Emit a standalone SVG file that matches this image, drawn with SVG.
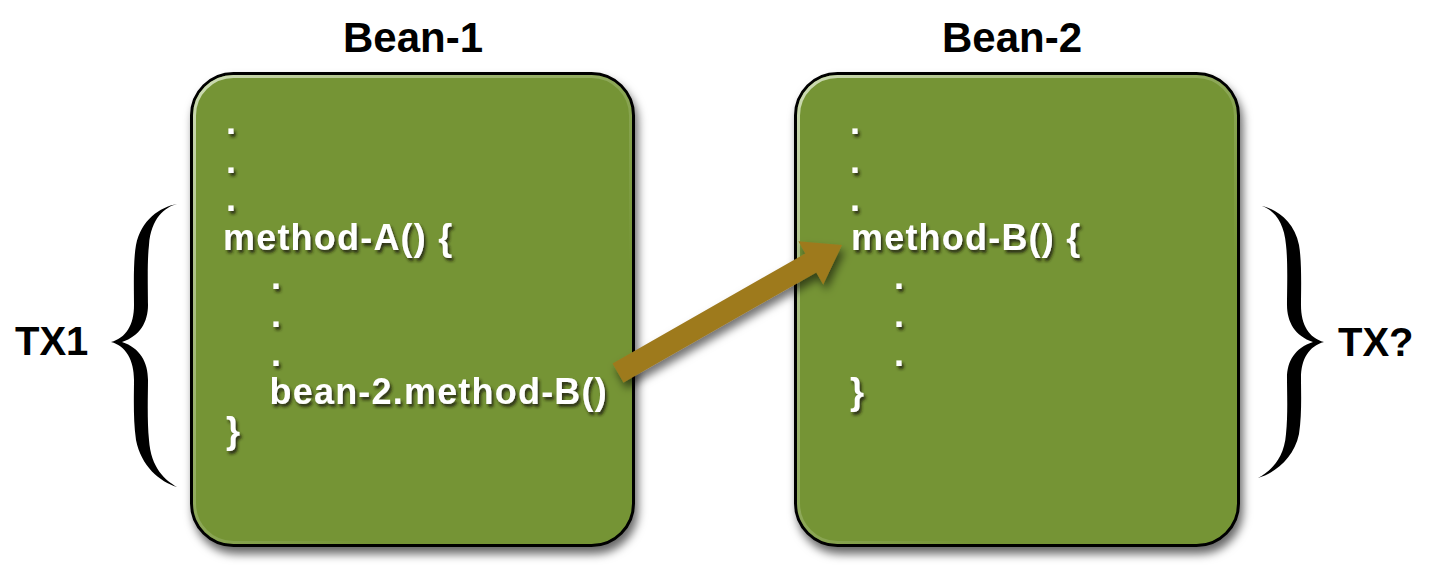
<svg xmlns="http://www.w3.org/2000/svg" width="1443" height="587" viewBox="0 0 1443 587">
<defs>
<filter id="boxShadow" x="-10%" y="-10%" width="125%" height="125%">
<feDropShadow dx="3" dy="7" stdDeviation="5" flood-color="#000" flood-opacity="0.6"/>
</filter>
<filter id="txtShadow" x="-10%" y="-30%" width="130%" height="170%">
<feDropShadow dx="2" dy="3" stdDeviation="1.6" flood-color="#1b240b" flood-opacity="0.85"/>
</filter>
<filter id="arrowShadow" x="-20%" y="-30%" width="150%" height="180%">
<feDropShadow dx="3" dy="6" stdDeviation="4" flood-color="#000" flood-opacity="0.55"/>
</filter>
<linearGradient id="hl" x1="0" y1="0" x2="1" y2="1">
<stop offset="0" stop-color="#d8e4c4" stop-opacity="0.9"/>
<stop offset="0.45" stop-color="#b9cc98" stop-opacity="0.4"/>
<stop offset="0.7" stop-color="#b9cc98" stop-opacity="0"/>
</linearGradient>
<style>
.box{fill:#759436;stroke:#000;stroke-width:3}
.inner{fill:none;stroke:url(#hl);stroke-width:3}
.code{font-family:"Liberation Sans",Arial,Helvetica,sans-serif;font-weight:bold;font-size:36px;fill:#fff;letter-spacing:1.2px}
.title{font-family:"Liberation Sans",Arial,Helvetica,sans-serif;font-weight:bold;font-size:42px;fill:#000}
.tx{font-family:"Liberation Sans",Arial,Helvetica,sans-serif;font-weight:bold;font-size:40px;fill:#000}
.brace{fill:#000}
.arrow{fill:#9e7a1f}
</style>
</defs>
<rect width="1443" height="587" fill="#fff"/>

<g id="bean1">
<text class="title" x="413" y="52" text-anchor="middle">Bean-1</text>
<rect class="box" x="191.5" y="73.5" width="442" height="472" rx="42" filter="url(#boxShadow)"/>
<rect class="inner" x="194.5" y="76.5" width="436" height="466" rx="39"/>
<g class="code" filter="url(#txtShadow)">
<text x="226" y="134">.</text>
<text x="226" y="172.5">.</text>
<text x="226" y="211">.</text>
<text x="223" y="250">method-A() {</text>
<text x="271" y="288.5">.</text>
<text x="271" y="327">.</text>
<text x="271" y="365.5">.</text>
<text x="269.5" y="404">bean-2.method-B()</text>
<text x="226" y="443">}</text>
</g>
</g>

<g id="bean2">
<text class="title" x="1012" y="52" text-anchor="middle">Bean-2</text>
<rect class="box" x="795.5" y="73.5" width="443" height="472" rx="42" filter="url(#boxShadow)"/>
<rect class="inner" x="798.5" y="76.5" width="437" height="466" rx="39"/>
<g class="code" filter="url(#txtShadow)">
<text x="850" y="134">.</text>
<text x="850" y="172.5">.</text>
<text x="850" y="211">.</text>
<text x="851" y="250">method-B() {</text>
<text x="894" y="288.5">.</text>
<text x="894" y="327">.</text>
<text x="894" y="365.5">.</text>
<text x="850" y="404">}</text>
</g>
</g>

<g id="tx1">
<path class="brace" d="M 177 204 C 160 207, 141 220, 136 245 C 133 262, 134 290, 134 305 C 134 325, 126 338, 111 342 C 126 346, 134 360, 134 380 C 134 395, 133 420, 136 440 C 141 466, 160 482, 177 487 C 165 480, 151 468, 149 440 C 147 420, 148 395, 148 380 C 148 362, 140 348, 122 342 C 140 336, 148 322, 148 305 C 148 290, 147 262, 149 245 C 151 218, 165 207, 177 204 Z"/>
<text class="tx" x="15" y="355">TX1</text>
</g>

<g id="tx2">
<path class="brace" d="M 1258 205 C 1275 208, 1294 220, 1299 245 C 1302 262, 1301 290, 1301 305 C 1301 325, 1309 338, 1324 342 C 1309 346, 1301 359, 1301 378 C 1301 392, 1302 415, 1299 434 C 1294 458, 1275 473, 1258 478 C 1270 471, 1284 460, 1286 434 C 1288 415, 1287 392, 1287 378 C 1287 361, 1295 348, 1313 342 C 1295 336, 1287 322, 1287 305 C 1287 290, 1288 262, 1286 245 C 1284 218, 1270 207, 1258 205 Z"/>
<text class="tx" x="1338" y="356">TX?</text>
</g>

<g id="connectors">
<polygon class="arrow" filter="url(#arrowShadow)" points="612.5,363.5 805.3,253.4 798.4,241.2 842,245 823.2,284.6 816.3,272.4 623.5,382.5"/>
</g>
</svg>
